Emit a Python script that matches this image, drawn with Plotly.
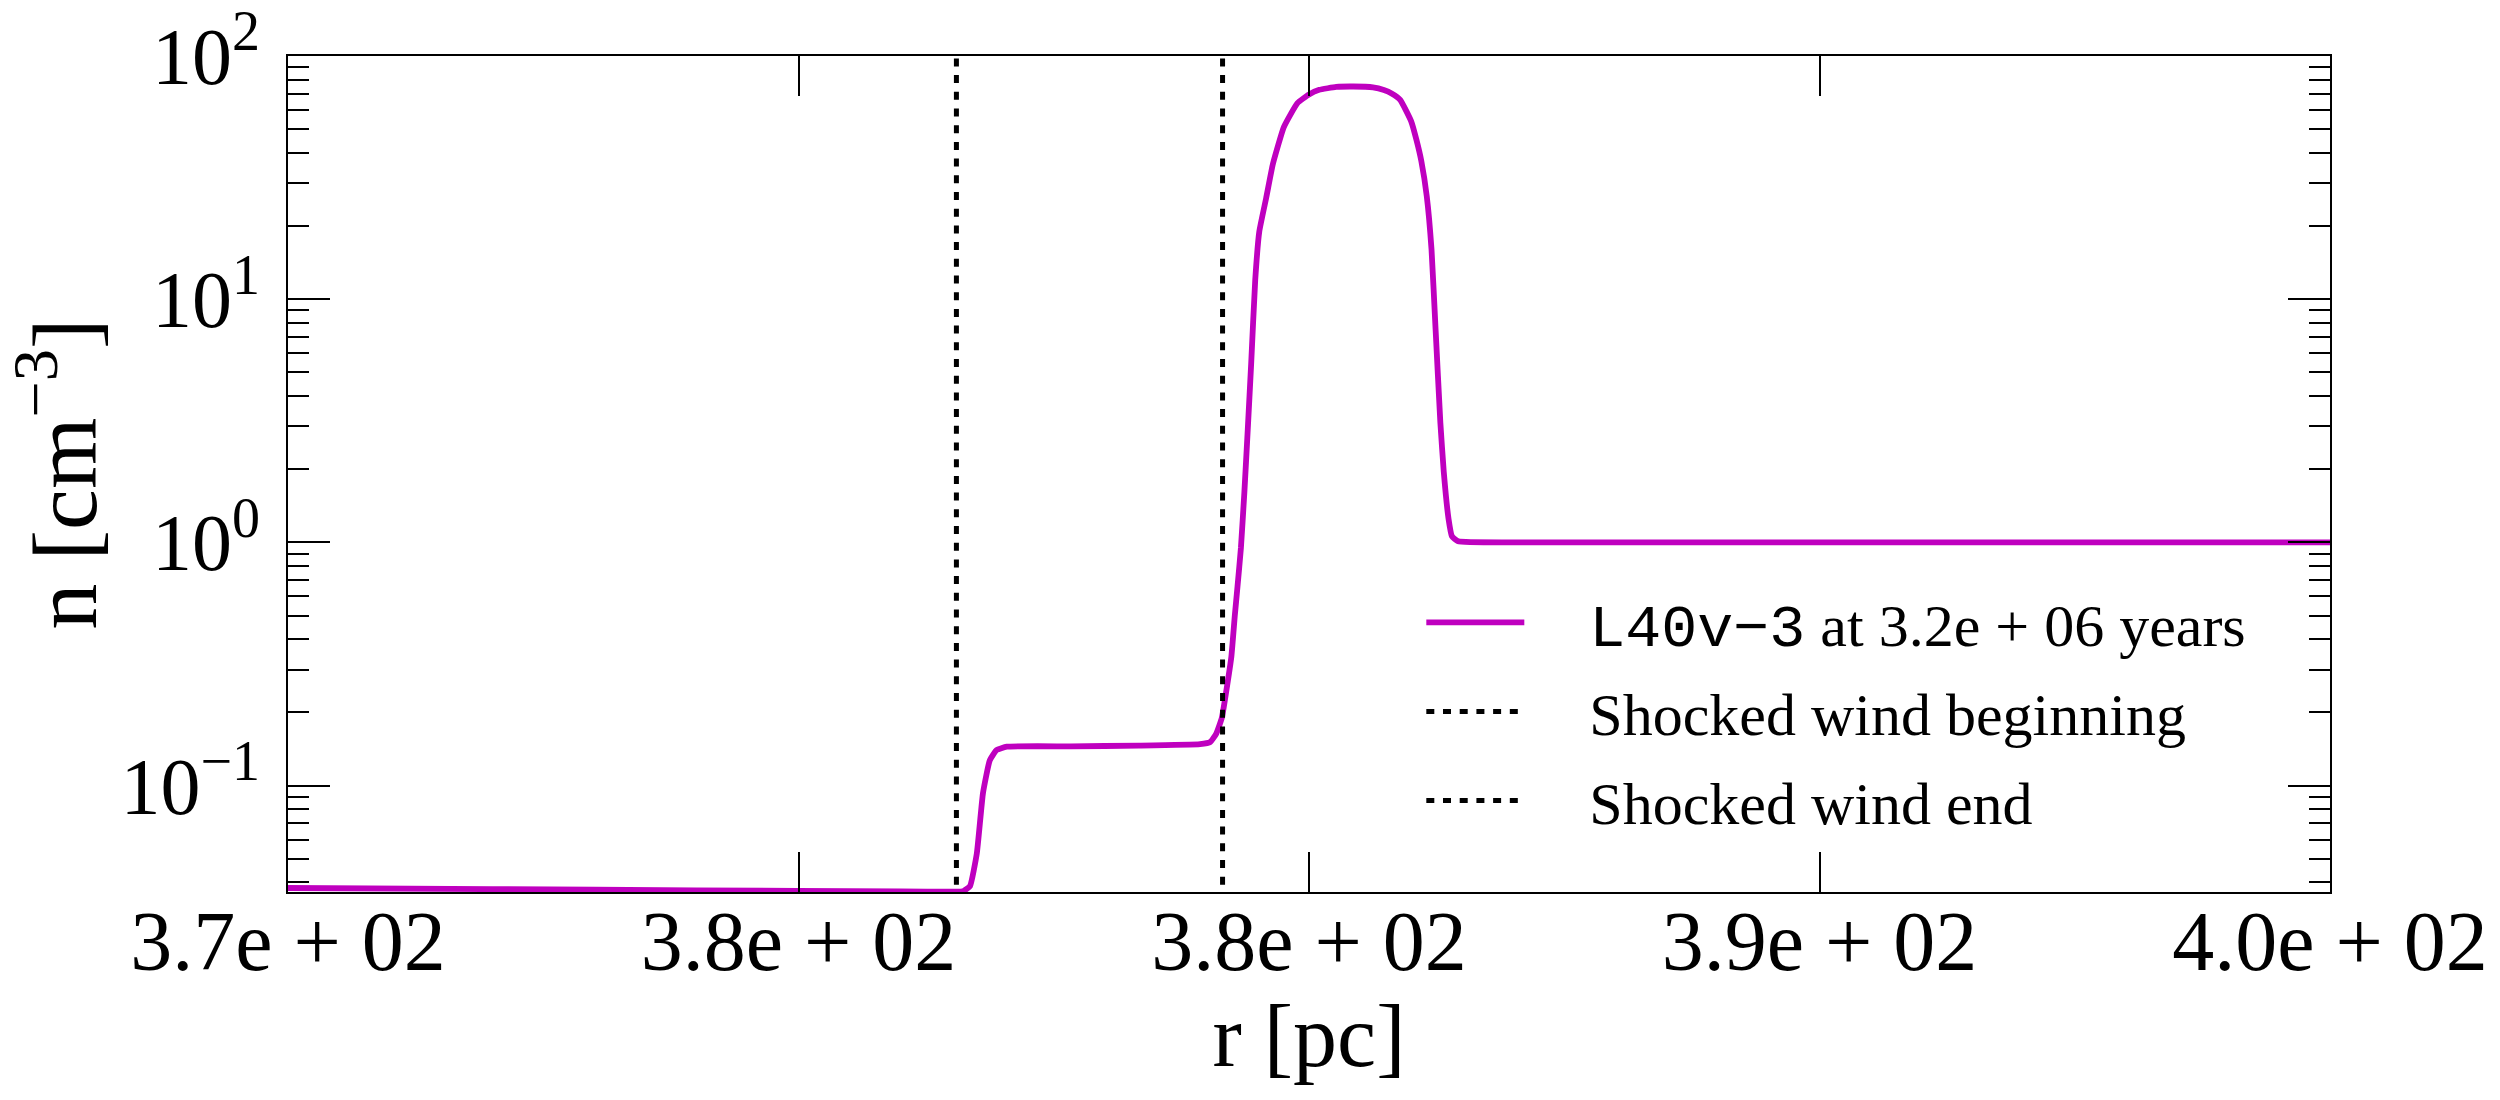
import math
import plotly.graph_objects as go

# ---------------- data ----------------
r_pc = [370.0, 373.0, 376.0, 379.0, 379.80, 379.92, 380.02, 380.12, 380.21,
        380.31, 380.41, 380.56, 381.5, 382.5, 383.40, 383.55, 383.64, 383.72,
        383.79, 383.86, 383.91, 383.95, 384.00, 384.05, 384.10, 384.15, 384.21,
        384.27, 384.37, 384.47, 384.63, 384.83, 385.00, 385.15, 385.40, 385.65,
        385.94, 386.10, 386.22, 386.34, 386.50, 386.58, 386.65, 386.73, 386.80,
        386.86, 386.93, 386.98, 387.05, 387.10, 387.19, 388.0, 394.0, 400.0]
n_cm3 = [0.0379, 0.0375, 0.0371, 0.0367, 0.0366, 0.0368, 0.0386, 0.0526, 0.093,
         0.127, 0.140, 0.1445, 0.145, 0.146, 0.148, 0.151, 0.164, 0.19,
         0.25, 0.34, 0.50, 0.66, 0.95, 1.6, 2.9, 5.4, 12.0,
         19.0, 26.0, 36.0, 51.0, 64.0, 69.5, 72.6, 74.6, 74.9,
         74.3, 72.5, 70.0, 66.0, 54.0, 45.0, 37.0, 26.5, 16.0,
         7.5, 3.1, 1.95, 1.25, 1.06, 1.01, 1.0, 1.0, 1.0]

shock_begin_pc = 379.82
shock_end_pc = 383.73

x_range = [370.0, 400.0]
y_range = [0.0365, 100.0]

x_tick_vals = [370.0, 377.5, 385.0, 392.5, 400.0]
x_tick_labels = ["3.7e + 02", "3.8e + 02", "3.8e + 02", "3.9e + 02", "4.0e + 02"]
y_tick_vals = [0.1, 1.0, 10.0, 100.0]
y_tick_labels = ["10<sup>\u22121</sup>", "10<sup>0</sup>", "10<sup>1</sup>", "10<sup>2</sup>"]
y_minor_vals = [k * 10.0 ** d for d in (-2, -1, 0, 1) for k in range(2, 10)]

GAP = "\u2002\u2002"
series_label = (GAP + '<span style="font-family:Liberation Mono">L40v\u22123</span>'
                ' at 3.2e + 06 years')
begin_label = GAP + "Shocked wind beginning"
end_label = GAP + "Shocked wind end"

# ---------------- styling ----------------
MAGENTA = "#BF00BF"
SERIF = "Liberation Serif"
DOT = "8px,8.7px"

fig = go.Figure()
fig.add_trace(go.Scatter(x=r_pc, y=n_cm3, mode="lines", name=series_label,
                         line=dict(color=MAGENTA, width=5.8, shape="spline", smoothing=0.4),
                         legendgroup="a"))
fig.add_trace(go.Scatter(x=[shock_begin_pc, shock_begin_pc],
                         y=[y_range[0] / 10, y_range[1] * 10], mode="lines",
                         name=begin_label, legendgroup="b",
                         line=dict(color="black", width=5, dash=DOT)))
fig.add_trace(go.Scatter(x=[shock_end_pc, shock_end_pc],
                         y=[y_range[0] / 10, y_range[1] * 10], mode="lines",
                         name=end_label, legendgroup="c",
                         line=dict(color="black", width=5, dash=DOT)))

fig.update_layout(
    width=2500, height=1100,
    margin=dict(l=288, r=170, t=56, b=208),
    paper_bgcolor="white", plot_bgcolor="white",
    font=dict(family=SERIF, color="black"),
    showlegend=True,
    legend=dict(x=0.555, xanchor="left", y=0.216, yanchor="middle",
                font=dict(size=60, family=SERIF, color="black"),
                bgcolor="rgba(0,0,0,0)", borderwidth=0,
                itemwidth=98, tracegroupgap=8, traceorder="grouped"),
)

fig.update_xaxes(
    range=x_range, tickmode="array", tickvals=x_tick_vals, ticktext=x_tick_labels,
    ticks="inside", ticklen=40, tickwidth=2, tickcolor="black",
    showline=True, linecolor="black", linewidth=2, mirror="allticks",
    showgrid=False, zeroline=False, automargin=False,
    tickfont=dict(size=84, family=SERIF), ticklabelstandoff=-25,
    title=dict(text="r [pc]", font=dict(size=88, family=SERIF), standoff=2),
)
fig.update_yaxes(
    type="log", range=[math.log10(y_range[0]), math.log10(y_range[1])],
    tickmode="array", tickvals=y_tick_vals, ticktext=y_tick_labels,
    ticks="inside", ticklen=42, tickwidth=2, tickcolor="black",
    minor=dict(tickmode="array", tickvals=y_minor_vals, ticks="inside",
               ticklen=21, tickwidth=1.5, tickcolor="black", showgrid=False),
    showline=True, linecolor="black", linewidth=2, mirror="allticks",
    showgrid=False, zeroline=False, automargin=False,
    tickfont=dict(size=80, family=SERIF), ticklabelstandoff=10,
    title=dict(text="n [cm<sup>\u22123</sup>]", font=dict(size=92, family=SERIF), standoff=24),
)

fig.write_html("out.html")
